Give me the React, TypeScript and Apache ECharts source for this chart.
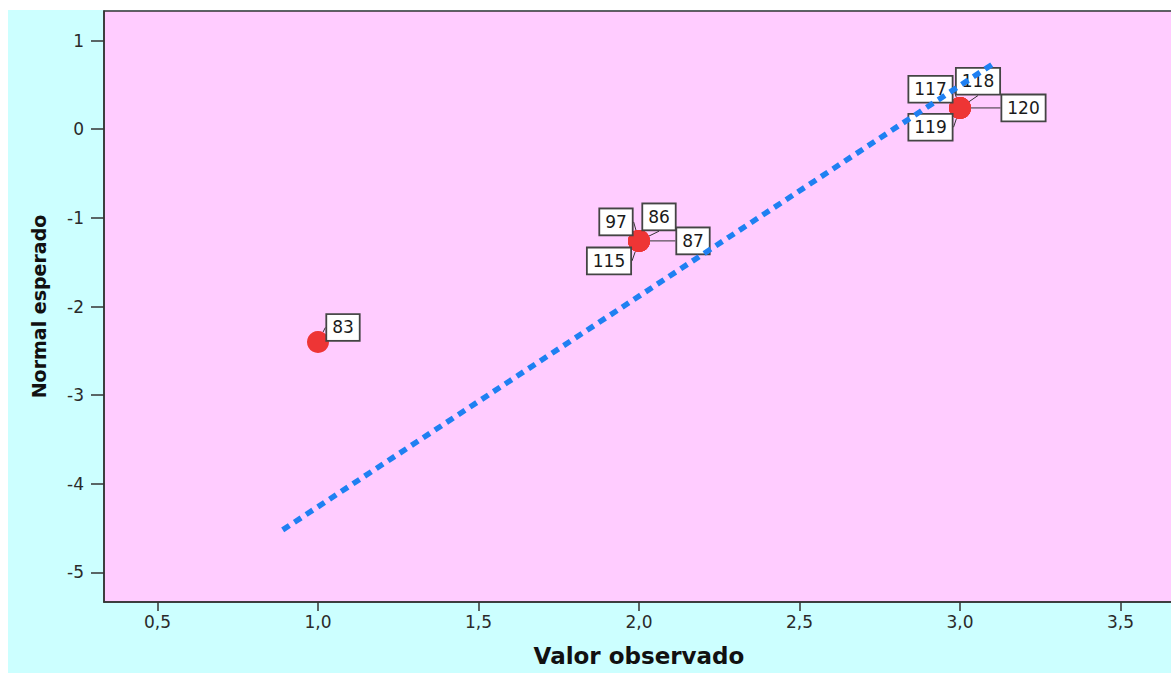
import { useEffect, useRef } from 'react';
import * as echarts from 'echarts';

// Case identifiers and their values (normal Q-Q plot)
const caseIds = ['83', '97', '86', '87', '115', '117', '118', '119', '120'];
const observed = [1.0, 2.0, 2.0, 2.0, 2.0, 3.0, 3.0, 3.0, 3.0];
const expectedNormal = [-2.4, -1.26, -1.26, -1.26, -1.26, 0.24, 0.24, 0.24, 0.24];

// Reference (expected normal) line end points
const refLineX = [0.89, 3.1];
const refLineY = [-4.52, 0.73];

// Axis ticks
const xTicks = [0.5, 1.0, 1.5, 2.0, 2.5, 3.0, 3.5];
const yTicks = [-5, -4, -3, -2, -1, 0, 1];

// Label box displacement (style only), keyed by case id
const labelShift: Record<string, [number, number]> = {
  '83': [25, -14.5],
  '97': [-23, -19],
  '86': [20, -24],
  '87': [54, 0],
  '115': [-30, 20],
  '117': [-29.5, -18.7],
  '118': [18, -26.7],
  '119': [-29.5, 19.3],
  '120': [63.5, 0],
};

const FONT = 'DejaVu Sans';

export default function App() {
  const ref = useRef<HTMLDivElement>(null);

  useEffect(() => {
    if (!ref.current) return;
    const chart = echarts.init(ref.current, undefined, { renderer: 'svg' });
    chart.setOption({
      animation: false,
      backgroundColor: '#ccffff',
      grid: {
        left: 96,
        right: -3,
        top: 1,
        bottom: 71,
        show: true,
        backgroundColor: '#ffccff',
        borderColor: '#333',
        borderWidth: 1.5,
        outerBoundsMode: 'none',
        containLabel: false,
      },
      xAxis: {
        type: 'value',
        min: 1 / 3,
        max: 11 / 3,
        name: 'Valor observado',
        nameLocation: 'middle',
        nameGap: 42,
        nameTextStyle: { fontFamily: FONT, fontWeight: 'bold', fontSize: 23, color: '#111' },
        axisLine: { show: true, onZero: false, lineStyle: { color: '#333', width: 1.5 } },
        axisTick: { show: true, length: 9, customValues: xTicks, lineStyle: { color: '#333', width: 1.5 } },
        axisLabel: {
          customValues: xTicks,
          formatter: (v: number) => v.toFixed(1).replace('.', ','),
          margin: 11,
          fontFamily: FONT,
          fontSize: 17,
          color: '#2a2a2a',
        },
        splitLine: { show: false },
      },
      yAxis: {
        type: 'value',
        min: -16 / 3,
        max: 4 / 3,
        name: 'Normal esperado',
        nameLocation: 'middle',
        nameGap: 56,
        nameTextStyle: { fontFamily: FONT, fontWeight: 'bold', fontSize: 19, color: '#111' },
        axisLine: { show: true, onZero: false, lineStyle: { color: '#333', width: 1.5 } },
        axisTick: { show: true, length: 13, customValues: yTicks, lineStyle: { color: '#333', width: 1.5 } },
        axisLabel: {
          customValues: yTicks,
          formatter: (v: number) => String(v),
          margin: 20,
          fontFamily: FONT,
          fontSize: 17,
          color: '#2a2a2a',
        },
        splitLine: { show: false },
      },
      series: [
        {
          type: 'scatter',
          z: 2,
          symbol: 'circle',
          symbolSize: 22,
          itemStyle: { color: '#ee3535', opacity: 1 },
          data: observed.map((x, i) => ({ value: [x, expectedNormal[i]], name: caseIds[i] })),
          label: {
            show: true,
            position: 'inside',
            formatter: (p: any) => p.name,
            fontFamily: FONT,
            fontSize: 17,
            lineHeight: 17,
            color: '#1a1a1a',
            backgroundColor: '#ffffff',
            borderColor: '#444',
            borderWidth: 1.8,
            padding: [4, 5, 4, 5],
          },
          labelLine: { show: true, lineStyle: { color: '#333', width: 1 } },
          labelLayout: (params: any) => {
            const s = labelShift[caseIds[params.dataIndex]];
            return { dx: s[0], dy: s[1] };
          },
        },
        {
          type: 'line',
          z: 3,
          silent: true,
          symbol: 'none',
          data: refLineX.map((x, i) => [x, refLineY[i]]),
          lineStyle: { color: '#1f80f2', width: 5.5, type: [8, 6] },
        },
      ],
    });
    return () => chart.dispose();
  }, []);

  return (
    <div
      style={{ position: 'absolute', left: 8, top: 10, width: 1163, height: 663, overflow: 'hidden' }}
    >
      <div ref={ref} style={{ width: 1163, height: 663 }} />
    </div>
  );
}
